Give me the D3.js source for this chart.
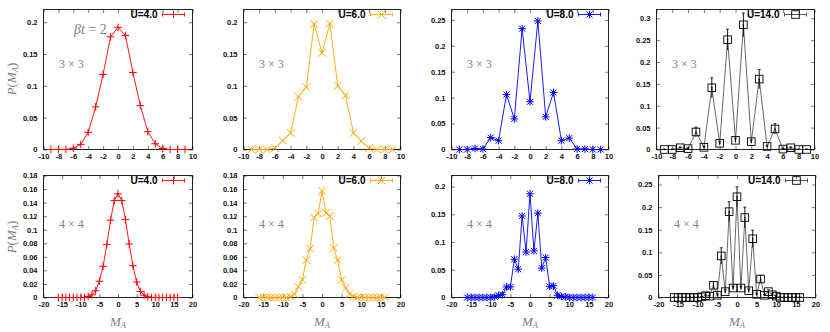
<!DOCTYPE html>
<html>
<head>
<meta charset="utf-8">
<script src="https://cdn.jsdelivr.net/npm/d3@7"></script>
<style>
  html, body { margin: 0; padding: 0; background: #fff; }
  svg { display: block; }
  .tick text { font-family: "Liberation Sans", Arial, sans-serif; font-size: 7.5px; font-weight: bold; fill: #111; }
</style>
</head>
<body>
<svg id="chart" width="830" height="332"></svg>
<script>
// ---------- data ----------
const ma3 = [-9,-8,-7,-6,-5,-4,-3,-2,-1,0,1,2,3,4,5,6,7,8,9];
const ma4 = [-16,-15,-14,-13,-12,-11,-10,-9,-8,-7,-6,-5,-4,-3,-2,-1,0,1,2,3,4,5,6,7,8,9,10,11,12,13,14,15,16];

const p3_U4  = [0,0,0,0.002,0.008,0.027,0.067,0.118,0.177,0.192,0.179,0.121,0.069,0.028,0.009,0.0015,0,0,0];
const p3_U6  = [0,0,0,0.002,0.014,0.026,0.083,0.098,0.197,0.152,0.198,0.100,0.085,0.026,0.013,0.002,0,0,0];
const p3_U8  = [0,0,0.002,0.001,0.023,0.017,0.106,0.059,0.233,0.092,0.248,0.063,0.110,0.017,0.022,0.001,0.001,0,0];
const p3_U14 = [0,0,0.004,0.002,0.040,0.005,0.141,0.014,0.251,0.021,0.285,0.018,0.161,0.007,0.047,0.001,0.004,0,0];
const e3_U14 = [0.001,0.001,0.002,0.002,0.011,0.003,0.023,0.004,0.024,0.005,0.027,0.004,0.022,0.003,0.012,0.002,0.002,0.001,0.001];

const p4_U4  = [0,0,0,0,0,0,0,0,0.0015,0.004,0.010,0.024,0.046,0.078,0.114,0.143,0.153,0.143,0.115,0.079,0.047,0.023,0.009,0.0035,0.001,0,0,0,0,0,0,0,0];
const p4_U6  = [0,0,0,0,0,0,0,0,0.001,0.005,0.016,0.026,0.055,0.072,0.118,0.124,0.157,0.125,0.120,0.073,0.055,0.026,0.014,0.005,0.002,0,0,0,0,0,0,0,0];
const p4_U8  = [0,0,0,0,0,0,0,0.001,0.004,0.005,0.019,0.019,0.069,0.051,0.147,0.082,0.187,0.084,0.152,0.053,0.072,0.020,0.021,0.004,0.002,0.001,0,0,0,0,0,0,0];
const p4_U14 = [0,0,0,0,0,0,0,0.0015,0.004,0.003,0.027,0.005,0.092,0.013,0.190,0.021,0.223,0.021,0.177,0.015,0.130,0.007,0.041,0.005,0.013,0.006,0.003,0,0,0,0,0,0];
const e4_U14 = [0.001,0.001,0.001,0.001,0.001,0.001,0.001,0.001,0.002,0.002,0.008,0.003,0.018,0.004,0.022,0.004,0.022,0.004,0.023,0.004,0.019,0.003,0.008,0.002,0.004,0.002,0.001,0.001,0.001,0.001,0.001,0.001,0.001];

const uLabels = ["U=4.0","U=6.0","U=8.0","U=14.0"];
const colors  = ["#ff0000","#ffa500","#0000ff","#000000"];
const markers = ["plus","cross","star","square"];

const xTicks3 = [-10,-8,-6,-4,-2,0,2,4,6,8,10];
const xTicks4 = [-20,-15,-10,-5,0,5,10,15,20];
const yTicksTop = [[0,0.05,0.1,0.15,0.2],[0,0.05,0.1,0.15,0.2],[0,0.05,0.1,0.15,0.2,0.25],[0,0.05,0.1,0.15,0.2,0.25,0.3]];
const yTicksBot = [[0,0.02,0.04,0.06,0.08,0.1,0.12,0.14,0.16,0.18],[0,0.02,0.04,0.06,0.08,0.1,0.12,0.14,0.16,0.18],[0,0.05,0.1,0.15,0.2],[0,0.05,0.1,0.15,0.2,0.25]];
const yMaxTop = [0.22,0.22,0.27,0.32];
const yMaxBot = [0.18,0.18,0.22,0.27];

// ---------- layout ----------
const svg = d3.select("#chart");
const topFrames = [[43.5,192.5],[243.5,400.5],[451.5,608.5],[656.5,814.5]];
const botFrames = [[43.5,192.5],[243.5,400.5],[451.5,608.5],[658.5,815.5]];
const topY = [9.5,149.5];
const botY = [175.5,297.5];

const panels = [];
for (let i = 0; i < 4; i++) {
  panels.push({frame: topFrames[i], yr: topY, xDom: [-10,10], xTicks: xTicks3, yMax: yMaxTop[i], yTicks: yTicksTop[i],
    xs: ma3, ys: [p3_U4,p3_U6,p3_U8,p3_U14][i], err: i===3 ? e3_U14 : null, k: i, size: "3 × 3", row: 0});
}
for (let i = 0; i < 4; i++) {
  panels.push({frame: botFrames[i], yr: botY, xDom: [-20,20], xTicks: xTicks4, yMax: yMaxBot[i], yTicks: yTicksBot[i],
    xs: ma4, ys: [p4_U4,p4_U6,p4_U8,p4_U14][i], err: i===3 ? e4_U14 : null, k: i, size: "4 × 4", row: 1});
}

const fmtY = d => d === 0 ? "0" : String(+d.toFixed(2));
const fmtX = d => String(d);

function drawMarker(g, type, x, y, color) {
  const h = 3.8;
  const s = g.append("g").attr("stroke", color).attr("stroke-width", 1).attr("fill", "none");
  if (type === "plus" || type === "star") {
    s.append("line").attr("x1", x-h).attr("x2", x+h).attr("y1", y).attr("y2", y);
    s.append("line").attr("x1", x).attr("x2", x).attr("y1", y-h).attr("y2", y+h);
  }
  if (type === "cross" || type === "star") {
    const c = type === "star" ? h*0.8 : h;
    s.append("line").attr("x1", x-c).attr("x2", x+c).attr("y1", y-c).attr("y2", y+c);
    s.append("line").attr("x1", x-c).attr("x2", x+c).attr("y1", y+c).attr("y2", y-c);
  }
  if (type === "square") {
    s.append("rect").attr("x", x-3.8).attr("y", y-3.8).attr("width", 7.6).attr("height", 7.6).attr("stroke-width", 0.9);
  }
}

panels.forEach(p => {
  const x = d3.scaleLinear().domain(p.xDom).range(p.frame);
  const y = d3.scaleLinear().domain([0, p.yMax]).range([p.yr[1], p.yr[0]]);
  const g = svg.append("g");
  const color = colors[p.k];
  const tl = 3.5;

  // axes with inward ticks
  const ax = g.append("g").attr("transform", `translate(0,${p.yr[1]})`)
    .call(d3.axisBottom(x).tickValues(p.xTicks).tickSize(-tl).tickPadding(5).tickFormat(fmtX));
  const axT = g.append("g").attr("transform", `translate(0,${p.yr[0]})`)
    .call(d3.axisTop(x).tickValues(p.xTicks).tickSize(-tl).tickFormat(""));
  const ay = g.append("g").attr("transform", `translate(${p.frame[0]},0)`)
    .call(d3.axisLeft(y).tickValues(p.yTicks).tickSize(-tl).tickPadding(6).tickFormat(fmtY));
  const ayR = g.append("g").attr("transform", `translate(${p.frame[1]},0)`)
    .call(d3.axisRight(y).tickValues(p.yTicks).tickSize(-tl).tickFormat(""));
  [ax, axT, ay, ayR].forEach(a => {
    a.select(".domain").remove();
    a.selectAll(".tick line").attr("stroke", "#555").attr("stroke-width", 0.8);
  });
  ax.selectAll(".tick text").attr("dy", "0.6em");

  // frame
  g.append("rect").attr("x", p.frame[0]).attr("y", p.yr[0])
    .attr("width", p.frame[1]-p.frame[0]).attr("height", p.yr[1]-p.yr[0])
    .attr("fill", "none").attr("stroke", "#222").attr("stroke-width", 1);

  const pts = p.xs.map((v, i) => ({x: v, y: p.ys[i], e: p.err ? p.err[i] : 0}));

  // line
  const line = d3.line().x(d => x(d.x)).y(d => y(d.y));
  g.append("path").datum(pts).attr("d", line).attr("fill", "none")
    .attr("stroke", p.k === 3 ? "#444" : color).attr("stroke-width", p.k === 3 ? 0.8 : 0.9);

  // error bars
  if (p.err) {
    pts.forEach(d => {
      const y1 = y(d.y + d.e), y2 = y(Math.max(0, d.y - d.e));
      g.append("line").attr("x1", x(d.x)).attr("x2", x(d.x)).attr("y1", y1).attr("y2", y2)
        .attr("stroke", "#000").attr("stroke-width", 0.9);
      g.append("line").attr("x1", x(d.x)-1.5).attr("x2", x(d.x)+1.5).attr("y1", y1).attr("y2", y1)
        .attr("stroke", "#000").attr("stroke-width", 0.8);
    });
  }

  // markers
  pts.forEach(d => {
    drawMarker(g, markers[p.k], x(d.x), y(d.y), color);
    g.append("circle").attr("cx", x(d.x)).attr("cy", y(d.y)).attr("r", 0.8).attr("fill", color);
  });

  // legend
  const ly = p.yr[0] + 5;
  const lx2 = p.frame[1] - 8, lx1 = p.frame[1] - 30;
  g.append("text").attr("x", p.frame[1] - 35).attr("y", ly + 3.5).attr("text-anchor", "end")
    .attr("font-family", "Liberation Sans, Arial, sans-serif").attr("font-weight", "bold").attr("font-size", "10px")
    .attr("fill", "#000").text(uLabels[p.k]);
  const lc = p.k === 3 ? "#444" : color;
  g.append("line").attr("x1", lx1).attr("x2", lx2).attr("y1", ly).attr("y2", ly).attr("stroke", lc).attr("stroke-width", 0.9);
  g.append("line").attr("x1", lx1).attr("x2", lx1).attr("y1", ly-2).attr("y2", ly+2).attr("stroke", lc).attr("stroke-width", 0.9);
  g.append("line").attr("x1", lx2).attr("x2", lx2).attr("y1", ly-2).attr("y2", ly+2).attr("stroke", lc).attr("stroke-width", 0.9);
  drawMarker(g, markers[p.k], (lx1+lx2)/2, ly, color);

  // size label
  g.append("text").attr("x", p.frame[0] + 15.5).attr("y", p.row === 0 ? 68 : 228)
    .attr("font-family", "Liberation Serif, serif").attr("font-size", "12px").attr("fill", "#808080")
    .text(p.size);

  // x label
  if (p.row === 1) {
    const t = g.append("text").attr("x", (p.frame[0] + p.frame[1]) / 2).attr("y", 326).attr("text-anchor", "middle")
      .attr("font-family", "Liberation Serif, serif").attr("font-size", "13px").attr("fill", "#808080");
    t.append("tspan").attr("font-style", "italic").text("M");
    t.append("tspan").attr("font-style", "italic").attr("font-size", "8.5px").attr("dy", 2).text("A");
  }
  // y label
  if (p.k === 0) {
    const cy = p.row === 0 ? 79 : 237;
    const t = g.append("text").attr("transform", `translate(16,${cy}) rotate(-90)`).attr("text-anchor", "middle")
      .attr("font-family", "Liberation Serif, serif").attr("font-size", "13px").attr("fill", "#808080");
    t.append("tspan").attr("font-style", "italic").text("P");
    t.append("tspan").text("(");
    t.append("tspan").attr("font-style", "italic").text("M");
    t.append("tspan").attr("font-style", "italic").attr("font-size", "8.5px").attr("dy", 2).text("A");
    t.append("tspan").attr("dy", -2).text(")");
  }
});

// beta t = 2
const bt = svg.append("text").attr("x", 74).attr("y", 34)
  .attr("font-family", "Liberation Serif, serif").attr("font-size", "14px").attr("fill", "#808080");
bt.append("tspan").attr("font-style", "italic").text("βt");
bt.append("tspan").text(" = 2");
</script>
</body>
</html>
